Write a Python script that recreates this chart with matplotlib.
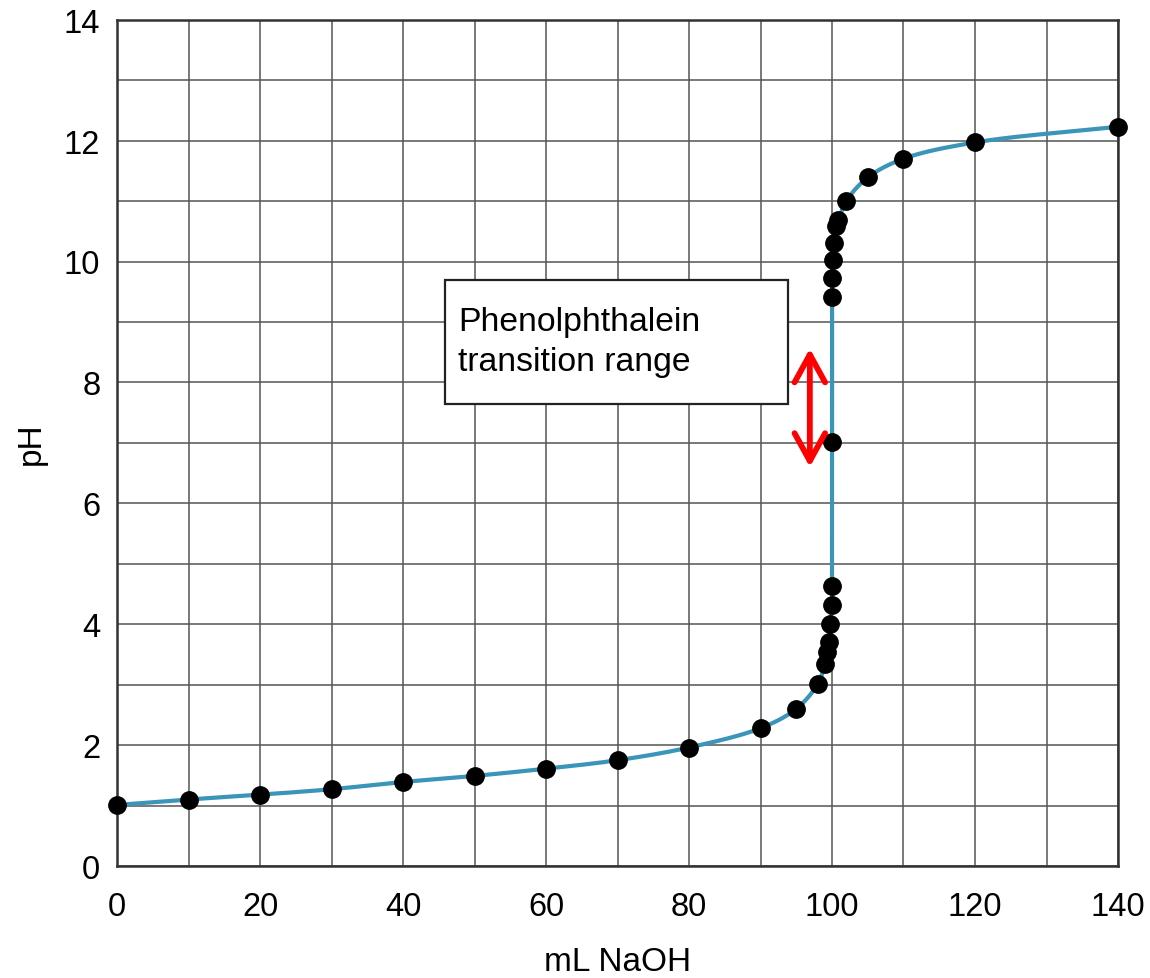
import numpy as np
import matplotlib
matplotlib.use("Agg")
import matplotlib.pyplot as plt
from matplotlib.patches import Rectangle

plt.rcParams['font.family'] = ['Liberation Sans', 'DejaVu Sans']

# Data
ml_naoh = [0, 10, 20, 30, 40, 50, 60, 70, 80, 90, 95, 98.0, 99.0, 99.3, 99.6, 99.7,
           100.0, 100.0, 100.0, 100.0, 100.0, 100.1, 100.3, 100.6, 100.9, 102, 105,
           110, 120, 140]
ph = [1.01, 1.10, 1.18, 1.27, 1.39, 1.49, 1.61, 1.75, 1.96, 2.28, 2.60, 3.01, 3.34,
      3.54, 3.70, 4.00, 4.31, 4.64, 7.01, 9.41, 9.72, 10.02, 10.31, 10.58, 10.68,
      11.00, 11.39, 11.70, 11.97, 12.23]
x_ticks = [0, 20, 40, 60, 80, 100, 120, 140]
y_ticks = [0, 2, 4, 6, 8, 10, 12, 14]
annot_text = ["Phenolphthalein", "transition range"]
range_top, range_bottom = 8.56, 6.6

fig = plt.figure(figsize=(11.5, 9.79), dpi=100)
ax = fig.add_axes([117/1150, 1 - 867/979, (1118-117)/1150, (867-20.7)/979])
ax.set_xlim(0, 140)
ax.set_ylim(0, 14)


def catmull_rom(xs, ys, sx, sy, n=30):
    # centripetal Catmull-Rom spline through the data points (scaled space)
    P = np.column_stack([np.asarray(xs) * sx, np.asarray(ys) * sy])
    P = np.vstack([2 * P[0] - P[1], P, 2 * P[-1] - P[-2]])
    out = []
    for i in range(1, len(P) - 2):
        p0, p1, p2, p3 = P[i-1], P[i], P[i+1], P[i+2]
        def tj(ti, a, b):
            return ti + max(np.hypot(*(b - a)), 1e-6) ** 0.5
        t0 = 0.0
        t1 = tj(t0, p0, p1)
        t2 = tj(t1, p1, p2)
        t3 = tj(t2, p2, p3)
        t = np.linspace(t1, t2, n)[:, None]
        A1 = (t1 - t) / (t1 - t0) * p0 + (t - t0) / (t1 - t0) * p1
        A2 = (t2 - t) / (t2 - t1) * p1 + (t - t1) / (t2 - t1) * p2
        A3 = (t3 - t) / (t3 - t2) * p2 + (t - t2) / (t3 - t2) * p3
        B1 = (t2 - t) / (t2 - t0) * A1 + (t - t0) / (t2 - t0) * A2
        B2 = (t3 - t) / (t3 - t1) * A2 + (t - t1) / (t3 - t1) * A3
        C = (t2 - t) / (t2 - t1) * B1 + (t - t1) / (t2 - t1) * B2
        out.append(C)
    C = np.vstack(out)
    return C[:, 0] / sx, C[:, 1] / sy


sx, sy = 7.15, 60.4
cx, cy = catmull_rom(ml_naoh, ph, sx, sy)
ax.plot(cx, cy, color='#3a95b8', lw=3.0, zorder=3, solid_capstyle='round')
ax.plot(ml_naoh, ph, 'o', color='black', ms=12.5, zorder=4, clip_on=False)

# Grid
ax.set_xticks(x_ticks)
ax.set_yticks(y_ticks)
ax.set_xticks(np.arange(10, 140, 20), minor=True)
ax.set_yticks(np.arange(1, 14, 2), minor=True)
ax.grid(True, which='both', color='#555555', lw=1.1, zorder=1)
ax.set_axisbelow(True)
ax.tick_params(which='both', length=0)
ax.tick_params(axis='x', labelsize=23.5, pad=18)
ax.tick_params(axis='y', labelsize=23.5, pad=12)
for s in ax.spines.values():
    s.set_color('#333333')
    s.set_linewidth(1.8)

ax.set_xlabel('mL NaOH', fontsize=24, labelpad=17)
ax.set_ylabel('pH', fontsize=24, labelpad=12)

# Annotation box
ax.add_patch(Rectangle((45.9, 7.65), 93.8 - 45.9, 9.69 - 7.65, facecolor='white',
                       edgecolor='#222222', lw=1.6, zorder=5))
ax.text(47.7, 8.87, annot_text[0], fontsize=24.3, va='baseline', ha='left', zorder=6)
ax.text(47.7, 8.20, annot_text[1], fontsize=24.3, va='baseline', ha='left', zorder=6)

ax.annotate('', xy=(96.9, range_top), xytext=(96.9, range_bottom),
            arrowprops=dict(arrowstyle='<->,head_length=2.0,head_width=1.1',
                            color='#ff0000', lw=4.2, shrinkA=0, shrinkB=0),
            zorder=6)

fig.savefig('out.png', dpi=100)
